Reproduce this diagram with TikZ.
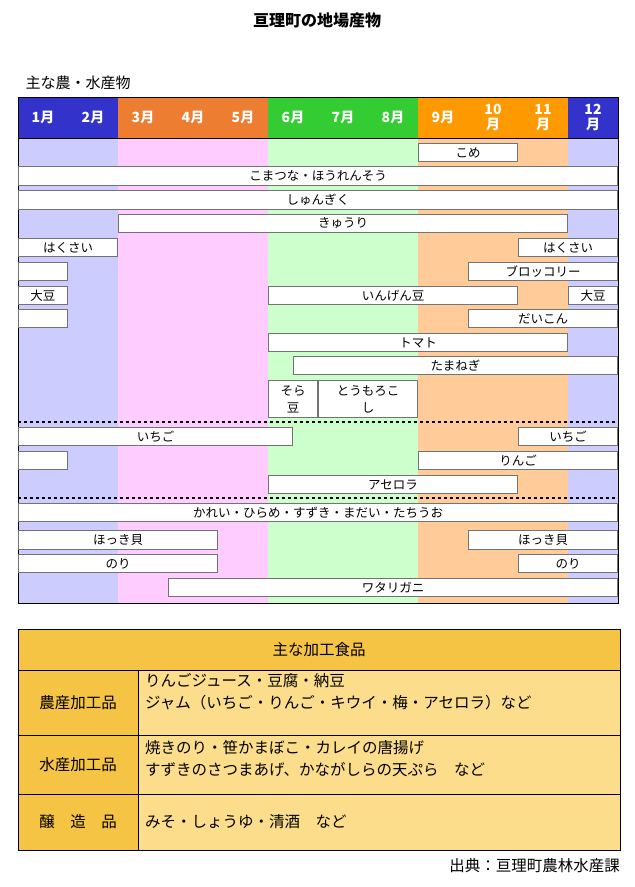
\documentclass[tikz,border=0pt]{standalone}
\usepackage{fontspec}
\setmainfont{Noto Sans CJK JP}
\begin{document}
\begin{tikzpicture}[x=1pt,y=-1pt,
 bar/.style={draw=black!55,line width=1.3pt,fill=white,font=\fontsize{12.5}{13}\selectfont,inner sep=0pt},
 hd/.style={text=white,font=\bfseries\fontsize{14}{15}\selectfont,align=center},
 cell/.style={draw=black,line width=0.8pt},
 lab/.style={font=\fontsize{15.5}{22}\selectfont}]
\useasboundingbox (0,0) rectangle (635,887);
\definecolor{bl}{HTML}{CCCCFF}\definecolor{pk}{HTML}{FFCCFF}
\definecolor{gr}{HTML}{CCFFCC}\definecolor{og}{HTML}{FFCC99}
\definecolor{hbl}{HTML}{3333CC}\definecolor{hor}{HTML}{ED7D31}
\definecolor{hgr}{HTML}{33CC33}\definecolor{hog}{HTML}{FF9900}
\definecolor{ty}{HTML}{F6C445}\definecolor{ly}{HTML}{FBDD8C}
\node[font=\bfseries\fontsize{16}{18}\selectfont] (title) at (317,20) {亘理町の地場産物};
\node[anchor=west,font=\fontsize{15}{16}\selectfont] (sub) at (22,83) {主な農・水産物};
\foreach \i/\c/\h/\t in {1/bl/hbl/1月,2/bl/hbl/2月,3/pk/hor/3月,4/pk/hor/4月,5/pk/hor/5月,6/gr/hgr/6月,7/gr/hgr/7月,8/gr/hgr/8月,9/og/hog/9月,10/og/hog/10\\月,11/og/hog/11\\月,12/bl/hbl/12\\月}{
 \fill[\c] ({18+50*(\i-1)},138) rectangle ({18+50*\i},603);
 \fill[\h] ({18+50*(\i-1)},97) rectangle ({18+50*\i},138);
 \node[hd] (h\i) at ({43+50*(\i-1)},117.5) {\t};
 \draw[white,line width=0.6pt] ({18+50*\i},97) -- ({18+50*\i},603);
}
\draw[line width=0.8pt] (18,97) rectangle (618,603);
\draw[line width=0.8pt] (18,138) -- (618,138);
\foreach \y in {422,498}{\draw[dashed,line width=1.2pt] (18,\y) -- (618,\y);}
\foreach \n/\a/\b/\t/\u/\s in {
 b1/418/518/143/162/こめ,
 b2/18/618/166/186/こまつな・ほうれんそう,
 b3/18/618/190/210/しゅんぎく,
 b4/118/568/214/233/きゅうり,
 b5/18/118/238/257/はくさい,
 b6/518/618/238/257/はくさい,
 b7/18/68/262/281/{},
 b8/468/618/262/281/ブロッコリー,
 b9/18/68/286/305/大豆,
 b10/268/518/286/305/いんげん豆,
 b11/568/618/286/305/大豆,
 b12/18/68/309/328/{},
 b13/468/618/309/328/だいこん,
 b14/268/568/333/352/トマト,
 b15/293/618/356/375/たまねぎ,
 b18/18/293/427/446/いちご,
 b19/518/618/427/446/いちご,
 b20/18/68/451/470/{},
 b21/418/618/451/470/りんご,
 b22/268/518/475/494/アセロラ,
 b23/18/618/503/522/かれい・ひらめ・すずき・まだい・たちうお,
 b24/18/218/530/550/ほっき貝,
 b25/468/618/530/550/ほっき貝,
 b26/18/218/554/573/のり,
 b27/518/618/554/573/のり,
 b28/168/618/578/597/ワタリガニ}{
 \node[bar,minimum width={\b-\a-1.3},minimum height={\u-\t-1.3}] (\n) at ({(\a+\b)/2},{(\t+\u)/2}) {\s};
}
\node[bar,align=center,minimum width=48.7,minimum height=36.7,font=\fontsize{12.5}{17}\selectfont] (b16) at (293,399) {そら\\豆};
\node[bar,align=center,minimum width=98.7,minimum height=36.7,font=\fontsize{12.5}{17}\selectfont] (b17) at (368,399) {とうもろこ\\し};
\fill[ty] (18,629) rectangle (620,670);
\fill[ty] (18,670) rectangle (138,850);
\fill[ly] (138,670) rectangle (620,850);
\draw[cell] (18,629) rectangle (620,850);
\draw[cell] (18,670) -- (620,670) (18,735) -- (620,735) (18,794) -- (620,794) (138,670) -- (138,850);
\node[lab] (th) at (319,650) {主な加工食品};
\node[lab] (r1) at (78,703) {農産加工品};
\node[lab] (r2) at (78,765) {水産加工品};
\node[lab] (r3) at (78,822) {醸\quad 造\quad 品};
\node[lab,anchor=north west,align=left,inner sep=0pt] (c1) at (145,673) {りんごジュース・豆腐・納豆\\ジャム（いちご・りんご・キウイ・梅・アセロラ）など};
\node[lab,anchor=north west,align=left,inner sep=0pt] (c2) at (145,740) {焼きのり・笹かまぼこ・カレイの唐揚げ\\すずきのさつまあげ、かながしらの天ぷら\quad など};
\node[lab,anchor=west,inner sep=0pt] (c3) at (145,822) {みそ・しょうゆ・清酒\quad など};
\node[lab,anchor=east,inner sep=0pt] (src) at (620,866) {出典：亘理町農林水産課};
\end{tikzpicture}
\end{document}
